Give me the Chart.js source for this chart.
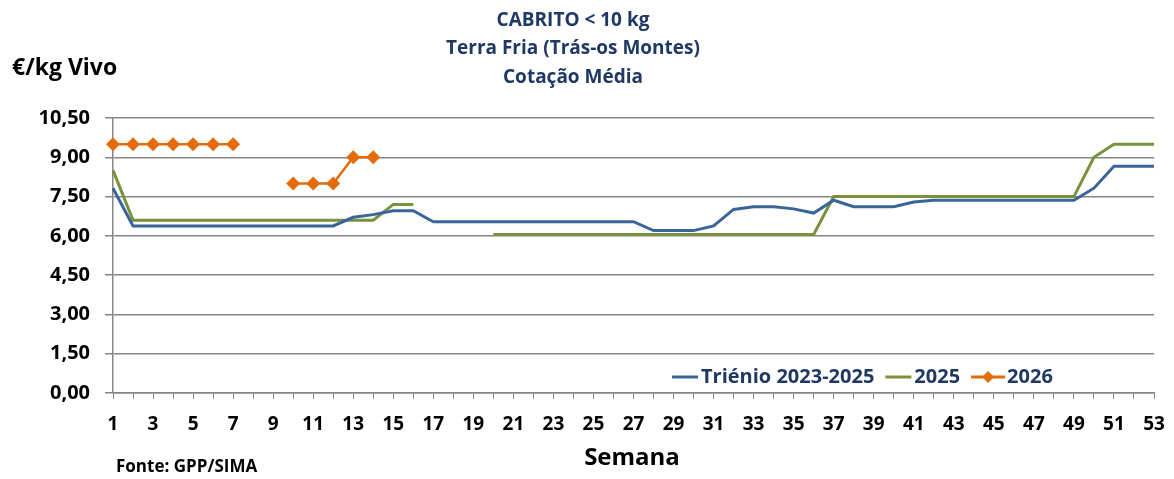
<!DOCTYPE html>
<html>
<head>
<meta charset="utf-8">
<script src="https://cdn.jsdelivr.net/npm/chart.js@4/dist/chart.umd.min.js"></script>
<style>
  html, body { margin: 0; padding: 0; background: #fff; }
  #wrap { width: 1174px; height: 479px; position: relative; }
</style>
</head>
<body>
<div id="wrap"><canvas id="chart" width="1174" height="479"></canvas></div>
<script>
const weeks = ['1','2','3','4','5','6','7','8','9','10','11','12','13','14','15','16','17','18','19','20',
    '21','22','23','24','25','26','27','28','29','30','31','32','33','34','35','36','37','38','39','40',
    '41','42','43','44','45','46','47','48','49','50','51','52','53'];

const trienio = [7.82, 6.38, 6.38, 6.38, 6.38, 6.38, 6.38, 6.38, 6.38, 6.38, 6.38, 6.38,
    6.71, 6.81, 6.96, 6.96,
    6.54, 6.54, 6.54, 6.54, 6.54, 6.54, 6.54, 6.54, 6.54, 6.54, 6.54,
    6.20, 6.20, 6.20,
    6.38, 7.01, 7.11, 7.11, 7.03, 6.87, 7.36,
    7.11, 7.11, 7.11,
    7.29, 7.36, 7.36, 7.36, 7.36, 7.36, 7.36, 7.36, 7.36,
    7.82, 8.66, 8.66, 8.66];

const y2025 = [8.5, 6.6, 6.6, 6.6, 6.6, 6.6, 6.6, 6.6, 6.6, 6.6, 6.6, 6.6, 6.6, 6.6,
    7.2, 7.2, null, null, null,
    6.05, 6.05, 6.05, 6.05, 6.05, 6.05, 6.05, 6.05, 6.05, 6.05, 6.05, 6.05, 6.05, 6.05, 6.05, 6.05, 6.05,
    7.5, 7.5, 7.5, 7.5, 7.5, 7.5, 7.5, 7.5, 7.5, 7.5, 7.5, 7.5, 7.5,
    9.0, 9.5, 9.5, 9.5];

const y2026 = [9.5, 9.5, 9.5, 9.5, 9.5, 9.5, 9.5, null, null, 8.0, 8.0, 8.0, 9.0, 9.0];

const seriesNames = ['Triénio 2023-2025', '2025', '2026'];
const titleLines = ['CABRITO < 10 kg', 'Terra Fria (Trás-os Montes)', 'Cotação Média'];
const yMin = 0, yMax = 10.5, yStep = 1.5;

const FONT = '"Open Sans", "Liberation Sans", sans-serif';
const NAVY = '#1F3864';
const GRID = '#858585';

const textPlugin = {
    id: 'texts',
    afterDraw(chart) {
        const c = chart.ctx;
        c.save();
        c.textBaseline = 'middle';
        // title
        c.fillStyle = NAVY;
        c.textAlign = 'center';
        c.font = 'bold 19px ' + FONT;
        [21, 49, 78].forEach((y, i) => c.fillText(titleLines[i], 573, y));
        // axis titles
        c.fillStyle = '#000';
        c.textAlign = 'left';
        c.font = 'bold 23px ' + FONT;
        c.fillText('€/kg Vivo', 12, 68);
        c.textAlign = 'center';
        c.font = 'bold 24px ' + FONT;
        c.fillText('Semana', 632, 458);
        c.textAlign = 'left';
        c.font = 'bold 17px ' + FONT;
        c.fillText('Fonte: GPP/SIMA', 116, 467);

        // legend
        c.font = 'bold 20px ' + FONT;
        let x = 672;
        const ly = 377;
        chart.data.datasets.forEach((ds, i) => {
            c.strokeStyle = ds.borderColor;
            c.lineWidth = 3;
            c.beginPath();
            c.moveTo(x, ly);
            c.lineTo(x + (i === 2 ? 34 : 26), ly);
            c.stroke();
            if (i === 2) {
                c.fillStyle = ds.backgroundColor;
                c.beginPath();
                c.moveTo(x + 17, ly - 6);
                c.lineTo(x + 23, ly);
                c.lineTo(x + 17, ly + 6);
                c.lineTo(x + 11, ly);
                c.closePath();
                c.fill();
                x += 36;
            } else {
                x += 29;
            }
            c.fillStyle = NAVY;
            c.fillText(ds.label, x, ly);
            x += c.measureText(ds.label).width + 11;
        });
        c.restore();
    }
};

new Chart(document.getElementById('chart').getContext('2d'), {
    type: 'line',
    data: {
        labels: weeks,
        datasets: [{
            label: seriesNames[0],
            data: trienio,
            borderColor: '#3A6599',
            backgroundColor: '#3A6599',
            borderWidth: 3,
            pointRadius: 0,
            tension: 0
        }, {
            label: seriesNames[1],
            data: y2025,
            borderColor: '#77933C',
            backgroundColor: '#77933C',
            borderWidth: 3,
            pointRadius: 0,
            tension: 0
        }, {
            label: seriesNames[2],
            data: y2026,
            borderColor: '#E46C0A',
            backgroundColor: '#E46C0A',
            borderWidth: 2.5,
            pointStyle: 'rectRot',
            pointRadius: 7,
            pointBorderWidth: 0,
            tension: 0
        }]
    },
    options: {
        responsive: false,
        animation: false,
        spanGaps: false,
        layout: { padding: { top: 118, right: 20, left: 0, bottom: 0 } },
        plugins: {
            legend: { display: false },
            title: { display: false },
            tooltip: { enabled: false }
        },
        scales: {
            x: {
                offset: false,
                afterFit(scale) {
                    scale.height = 86;
                    scale.paddingLeft = 0;
                    scale.paddingRight = 0;
                },
                grid: { drawOnChartArea: false, drawTicks: true, tickLength: 6, color: GRID },
                border: { display: true, color: GRID, width: 1.5 },
                ticks: {
                    autoSkip: false,
                    maxRotation: 0,
                    padding: 14,
                    color: '#000',
                    font: { family: FONT, size: 19, weight: 'bold' },
                    callback(v, i) { return i % 2 === 0 ? weeks[i] : ''; }
                }
            },
            y: {
                min: yMin,
                max: yMax,
                afterFit(scale) { scale.width = 113; },
                grid: { color: GRID, lineWidth: 1.5, tickLength: 8 },
                border: { display: true, color: GRID, width: 1.5 },
                ticks: {
                    stepSize: yStep,
                    padding: 15,
                    color: '#000',
                    font: { family: FONT, size: 20, weight: 'bold' },
                    callback(v) { return v.toFixed(2).replace('.', ','); }
                }
            }
        }
    },
    plugins: [textPlugin]
});
</script>
</body>
</html>
